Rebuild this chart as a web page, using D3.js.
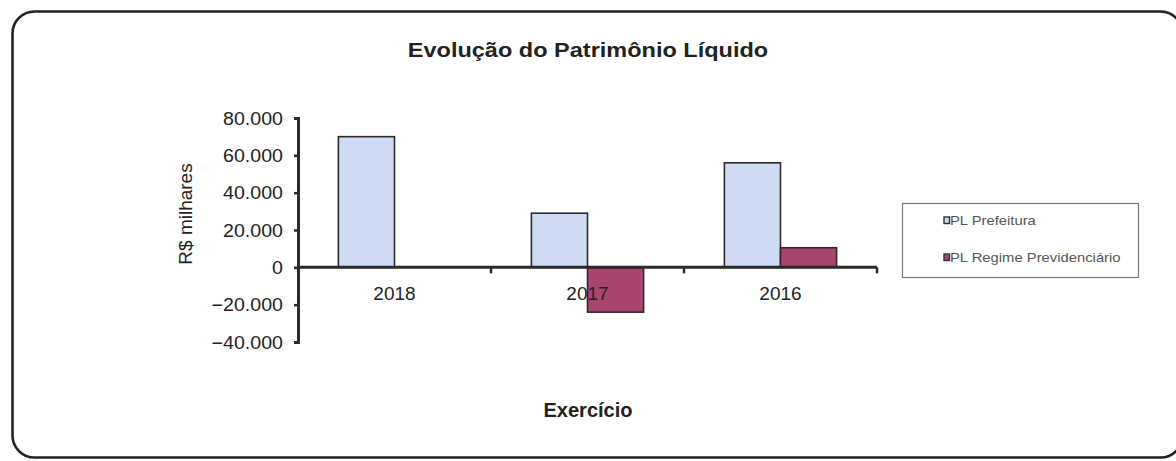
<!DOCTYPE html>
<html>
<head>
<meta charset="utf-8">
<script src="https://cdn.jsdelivr.net/npm/d3@7/dist/d3.min.js"></script>
<style>
  html, body { margin: 0; padding: 0; background: #fff; }
  svg { display: block; font-family: "Liberation Sans", Arial, sans-serif; }
</style>
</head>
<body>
<svg id="chart" width="1176" height="461"></svg>
<script>
// ---- data ----
const categories = ["2018", "2017", "2016"];
const seriesNames = ["PL Prefeitura", "PL Regime Previdenciário"];
const prefeitura = [70000, 29000, 56000];
const regime = [0, -24000, 10500];
const yTicks = [80000, 60000, 40000, 20000, 0, -20000, -40000];
const seriesColors = ["#cfdaf5", "#a8446f"];

const title = "Evolução do Patrimônio Líquido";
const yTitle = "R$ milhares";
const xTitle = "Exercício";

// ---- layout ----
const svg = d3.select("#chart");
const plot = { left: 298, right: 877, top: 118, bottom: 342 };

// outer frame
svg.append("rect")
  .attr("x", 12.5).attr("y", 11.5)
  .attr("width", 1170).attr("height", 446)
  .attr("rx", 22).attr("ry", 22)
  .attr("fill", "#fff").attr("stroke", "#222").attr("stroke-width", 2.6);

const y = d3.scaleLinear().domain([-40000, 80000]).range([plot.bottom, plot.top]);
const x0 = d3.scaleBand().domain(categories).range([plot.left, plot.right]).padding(0);
const x1 = d3.scaleBand().domain(seriesNames).range([0, x0.bandwidth()])
  .paddingInner(0).paddingOuter(0.72);

const fmt = v => v === 0 ? "0" : d3.format(",")(v).replace(/,/g, ".");

// bars
const rows = categories.map((c, i) => ({ cat: c, vals: [prefeitura[i], regime[i]] }));
const g = svg.append("g");
rows.forEach(r => {
  r.vals.forEach((v, j) => {
    if (v === 0) return;
    g.append("rect")
      .attr("x", x0(r.cat) + x1(seriesNames[j]))
      .attr("y", y(Math.max(0, v)))
      .attr("width", x1.bandwidth())
      .attr("height", Math.abs(y(v) - y(0)))
      .attr("fill", seriesColors[j])
      .attr("stroke", "#2a2a2a").attr("stroke-width", 1.6);
  });
});

// y axis
const yAxis = d3.axisLeft(y).tickValues(yTicks).tickSize(4).tickFormat("");
const ya = svg.append("g").attr("transform", `translate(${plot.left},0)`).call(yAxis);
ya.select(".domain").attr("stroke", "#2a2a2a").attr("stroke-width", 3);
ya.selectAll(".tick line").attr("stroke", "#2a2a2a").attr("stroke-width", 2.5);

// y tick labels (slightly stretched like the scan)
yTicks.forEach(t => {
  svg.append("text")
    .attr("transform", `translate(283,${y(t) + 6.5}) scale(1.09,1)`)
    .attr("text-anchor", "end")
    .attr("font-size", 18).attr("fill", "#222")
    .text(fmt(t));
});

// x axis at zero
svg.append("line")
  .attr("x1", plot.left).attr("x2", plot.right)
  .attr("y1", y(0)).attr("y2", y(0))
  .attr("stroke", "#2a2a2a").attr("stroke-width", 3);
categories.forEach(c => {
  const xe = x0(c) + x0.bandwidth();
  svg.append("line")
    .attr("x1", xe).attr("x2", xe)
    .attr("y1", y(0)).attr("y2", y(0) + 6)
    .attr("stroke", "#2a2a2a").attr("stroke-width", 2.5);
});

// x category labels
categories.forEach(c => {
  svg.append("text")
    .attr("x", x0(c) + x0.bandwidth() / 2)
    .attr("y", 300)
    .attr("text-anchor", "middle")
    .attr("font-size", 19).attr("fill", "#222")
    .text(c);
});

// title
svg.append("text")
  .attr("transform", "translate(588,57) scale(1.12,1)")
  .attr("text-anchor", "middle")
  .attr("font-size", 21).attr("font-weight", "bold").attr("fill", "#222")
  .text(title);

// axis titles
svg.append("text")
  .attr("transform", "translate(192,214) rotate(-90)")
  .attr("text-anchor", "middle")
  .attr("font-size", 19).attr("fill", "#222")
  .text(yTitle);

svg.append("text")
  .attr("x", 588).attr("y", 417)
  .attr("text-anchor", "middle")
  .attr("font-size", 20).attr("font-weight", "bold").attr("fill", "#222")
  .text(xTitle);

// legend
const lg = svg.append("g");
lg.append("rect")
  .attr("x", 902.5).attr("y", 203.5).attr("width", 236).attr("height", 74)
  .attr("fill", "#fff").attr("stroke", "#777").attr("stroke-width", 1.2);
seriesNames.forEach((s, i) => {
  const yy = 225 + i * 37;
  lg.append("rect")
    .attr("x", 944).attr("y", yy - 8).attr("width", 5.5).attr("height", 6.5)
    .attr("fill", seriesColors[i]).attr("stroke", "#333").attr("stroke-width", 1.4);
  lg.append("text")
    .attr("transform", `translate(950,${yy}) scale(1.14,1)`)
    .attr("font-size", 13).attr("fill", "#555")
    .text(s);
});
</script>
</body>
</html>
